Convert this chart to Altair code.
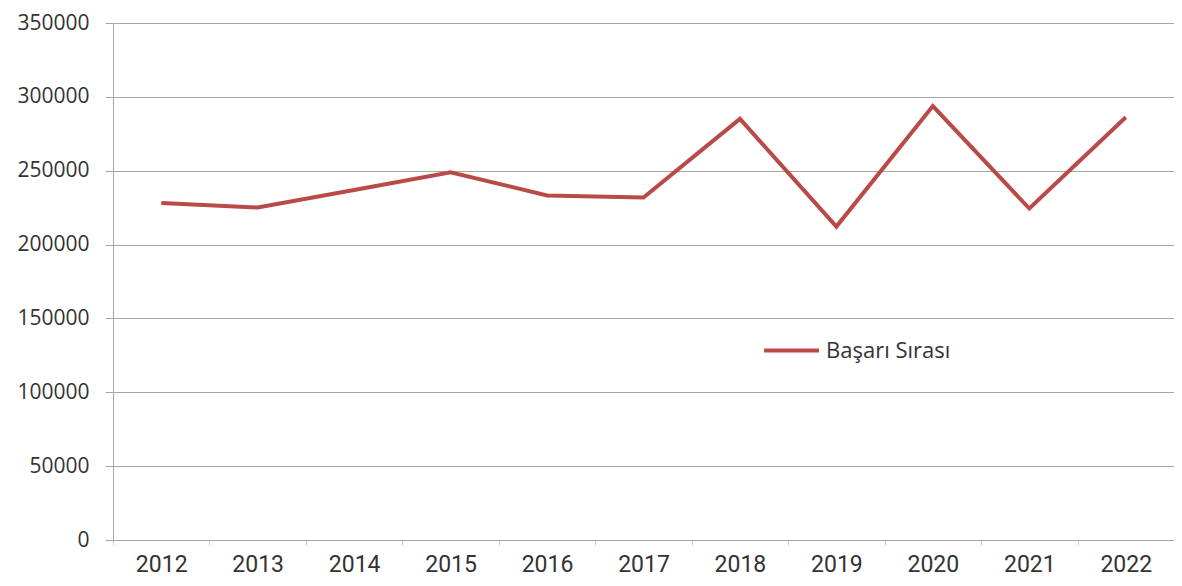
import altair as alt
import pandas as pd

years = ["2012", "2013", "2014", "2015", "2016", "2017", "2018", "2019", "2020", "2021", "2022"]
basari_sirasi = [228200, 225100, 237000, 248900, 233300, 231800, 285100, 212200, 293800, 224400, 286200]
series_name = "Başarı Sırası"

df = pd.DataFrame({"Yıl": years, "Değer": basari_sirasi, "Seri": [series_name] * len(years)})

line = alt.Chart(df).mark_line(strokeWidth=4, strokeJoin="miter").encode(
    x=alt.X("Yıl:O", title=None, sort=years,
            scale=alt.Scale(paddingInner=0, paddingOuter=0),
            axis=alt.Axis(labelAngle=0, tickBand="extent", grid=False,
                          domainColor="#a6a6a6", tickColor="#cccccc", tickSize=5,
                          labelPadding=8, labelFontSize=23, labelFont="Roboto",
                          labelColor="#333333")),
    y=alt.Y("Değer:Q", title=None,
            scale=alt.Scale(domain=[0, 350000], nice=False, zero=True),
            axis=alt.Axis(values=list(range(0, 350001, 50000)), format="d",
                          grid=True, gridColor="#a6a6a6", gridWidth=1,
                          domainColor="#a6a6a6", tickColor="#a6a6a6", tickSize=8,
                          labelPadding=16, labelFontSize=21, labelFont="Open Sans",
                          labelColor="#333333")),
    color=alt.Color("Seri:N", scale=alt.Scale(range=["#B94A48"]),
                    legend=alt.Legend(title=None, orient="none", legendX=649, legendY=298,
                                      symbolType="stroke", symbolSize=3025, symbolStrokeWidth=4,
                                      labelFontSize=22, labelFont="Open Sans", labelColor="#333333",
                                      labelOffset=5))
)

chart = line.properties(
    width=1061, height=517,
    autosize=alt.AutoSizeParams(type="none"),
    padding={"left": 105, "top": 15, "right": 0, "bottom": 38},
).configure_view(stroke=None).configure(background="white")

chart.save("out.html", embed_options={"renderer": "svg", "actions": False})
